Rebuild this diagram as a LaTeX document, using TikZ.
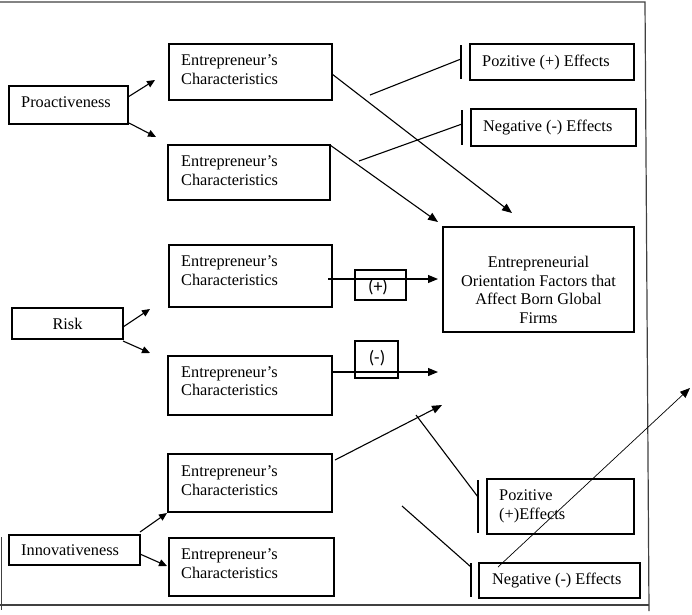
\documentclass[tikz,border=0pt]{standalone}
\usepackage{fontspec}
\setmainfont{Liberation Serif}
\newfontfamily\calfont{Carlito}
\usetikzlibrary{arrows.meta}
\newcommand\mybox[5]{\node[bx, minimum width={#4-#2}, minimum height={#5-#3}] (#1) at ({(#2+#4)/2},{(#3+#5)/2}) {};}
\begin{document}
\begin{tikzpicture}[x=1pt,y=-1pt,
  bx/.style={draw, line width=1.1pt, inner sep=0pt},
  txt/.style={font=\fontsize{16.3}{18.5}\selectfont, inner sep=0pt, anchor=base west},
  ctxt/.style={font=\fontsize{16.3}{18.5}\selectfont, inner sep=0pt, anchor=base, align=center},
  sym/.style={font=\calfont\fontsize{18}{20}\selectfont, inner sep=0pt, anchor=base},
  conn/.style={line width=1.1pt},
  arr/.style={conn, -{Triangle[length=10pt,width=8pt]}},
  sarr/.style={conn, -{Triangle[length=8pt,width=7pt]}},
  thinarr/.style={line width=0.7pt, -{Triangle[length=10pt,width=8pt]}},
  frame/.style={line width=1.2pt, draw=black!75}
]
\useasboundingbox (0,0) rectangle (692,614);

% frame
\coordinate (f1) at (0,2);
\coordinate (f2) at (645,2);
\coordinate (f3) at (649,611);
\coordinate (f4) at (0,605);
\coordinate (f5) at (649,605);
\coordinate (f6) at (1.5,537);
\coordinate (f7) at (1.5,610);
\draw[frame] (f1) -- (f2) -- (f3);
\draw[frame] (f4) -- (f5);
\draw[frame] (f6) -- (f7);

% left boxes
\mybox{pro}{9}{86}{128}{124}
\node[txt] (prot) at (21,107) {Proactiveness};
\mybox{risk}{12}{308}{123}{339}
\node[ctxt] (riskt) at (67.5,329) {Risk};
\mybox{inn}{9}{535}{140}{565}
\node[txt] (innt) at (21,555) {Innovativeness};

% characteristic boxes (anchor = baseline of last line)
\mybox{e1}{169}{44}{332}{100}
\node[txt, align=left] (e1t) at (181,84) {Entrepreneur’s\\Characteristics};
\mybox{e2}{168}{145}{330}{200}
\node[txt, align=left] (e2t) at (181,185) {Entrepreneur’s\\Characteristics};
\mybox{e3}{169}{245}{332}{307}
\node[txt, align=left] (e3t) at (181,285) {Entrepreneur’s\\Characteristics};
\mybox{e4}{168}{356}{332}{415}
\node[txt, align=left] (e4t) at (181,395.5) {Entrepreneur’s\\Characteristics};
\mybox{e5}{168}{454}{332}{512}
\node[txt, align=left] (e5t) at (181,495) {Entrepreneur’s\\Characteristics};
\mybox{e6}{169}{538}{334}{596}
\node[txt, align=left] (e6t) at (181,578) {Entrepreneur’s\\Characteristics};

% effects boxes
\mybox{p1}{470}{44}{634}{80}
\node[txt] (p1t) at (482,66) {Pozitive (+) Effects};
\mybox{n1}{471}{109}{636}{146}
\node[txt] (n1t) at (483,131) {Negative (-) Effects};
\mybox{p2}{487}{479}{634}{534}
\node[txt, align=left] (p2t) at (499,519) {Pozitive\\(+)Effects};
\mybox{n2}{479}{563}{640}{598}
\node[txt] (n2t) at (492,584) {Negative (-) Effects};

% central box
\mybox{eo}{443}{227}{634}{332}
\node[ctxt] (eot) at (538.5,323) {Entrepreneurial\\Orientation Factors that\\Affect Born Global\\Firms};

% sign boxes
\mybox{plus}{355}{270}{406}{300}
\node[sym] (plust) at (378,292) {(+)};
\mybox{minus}{355}{341}{398}{378}
\node[sym] (minust) at (377,363) {(-)};

% small arrows
\coordinate (a1s) at (128,97);  \coordinate (a1e) at (155,80);
\coordinate (a2s) at (129,123); \coordinate (a2e) at (156,137);
\coordinate (a3s) at (123,327); \coordinate (a3e) at (150,309);
\coordinate (a4s) at (123,341); \coordinate (a4e) at (150,353);
\coordinate (a5s) at (140,532); \coordinate (a5e) at (167,513);
\coordinate (a6s) at (140,554); \coordinate (a6e) at (167,566);
\draw[sarr] (a1s) -- (a1e);
\draw[sarr] (a2s) -- (a2e);
\draw[sarr] (a3s) -- (a3e);
\draw[sarr] (a4s) -- (a4e);
\draw[sarr] (a5s) -- (a5e);
\draw[sarr] (a6s) -- (a6e);

% long arrows
\coordinate (b1s) at (332,74);  \coordinate (b1e) at (512,213);
\coordinate (b2s) at (330,145); \coordinate (b2e) at (438,222);
\coordinate (b3s) at (328,279); \coordinate (b3e) at (438,279);
\coordinate (b4s) at (332,372); \coordinate (b4e) at (438,372);
\coordinate (b5s) at (335,460); \coordinate (b5e) at (442,405);
\coordinate (b6s) at (498,567); \coordinate (b6e) at (690,388);
\draw[arr] (b1s) -- (b1e);
\draw[arr] (b2s) -- (b2e);
\draw[arr] (b3s) -- (b3e);
\draw[arr] (b4s) -- (b4e);
\draw[arr] (b5s) -- (b5e);
\draw[thinarr] (b6s) -- (b6e);

% effect lines with ticks
\coordinate (l1s) at (370,95);  \coordinate (l1e) at (461,59);
\coordinate (t1a) at (461,45);  \coordinate (t1b) at (461,79);
\coordinate (l2s) at (359,161); \coordinate (l2e) at (462,124);
\coordinate (t2a) at (462,110); \coordinate (t2b) at (462,145);
\coordinate (l3s) at (416,415); \coordinate (l3e) at (478,497);
\coordinate (t3a) at (478,480); \coordinate (t3b) at (478,533);
\coordinate (l4s) at (402,506); \coordinate (l4e) at (471,567);
\coordinate (t4a) at (471,563); \coordinate (t4b) at (471,597);
\draw[conn] (l1s) -- (l1e);
\draw[conn] (t1a) -- (t1b);
\draw[conn] (l2s) -- (l2e);
\draw[conn] (t2a) -- (t2b);
\draw[conn] (l3s) -- (l3e);
\draw[conn] (t3a) -- (t3b);
\draw[conn] (l4s) -- (l4e);
\draw[conn] (t4a) -- (t4b);
\end{tikzpicture}
\end{document}
